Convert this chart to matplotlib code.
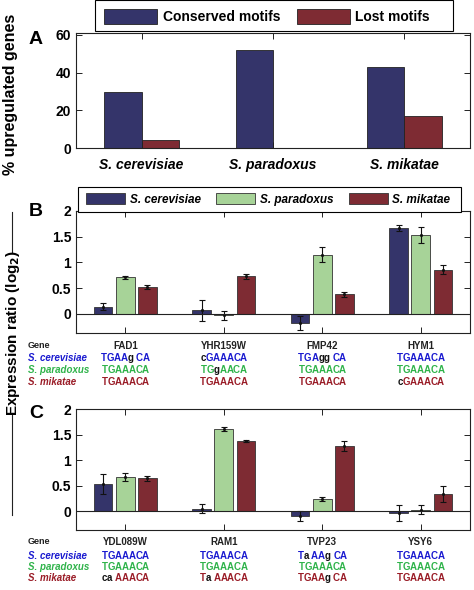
import numpy as np
import matplotlib
matplotlib.use('Agg')
import matplotlib.pyplot as plt
from matplotlib import transforms
from matplotlib.patches import Rectangle
from matplotlib.font_manager import FontProperties, findfont, get_font

plt.rcParams['font.family'] = ['Liberation Sans', 'DejaVu Sans']
plt.rcParams['font.weight'] = 'bold'

# ---- data ----
species = ['S. cerevisiae', 'S. paradoxus', 'S. mikatae']
conserved = [29.5, 52, 43]
lost = [4, 0, 17]

genes_b = ['FAD1', 'YHR159W', 'FMP42', 'HYM1']
cer_b = [0.14, 0.07, -0.18, 1.67]
cer_b_err = [0.07, 0.20, 0.14, 0.05]
par_b = [0.71, -0.03, 1.15, 1.53]
par_b_err = [0.03, 0.08, 0.15, 0.16]
mik_b = [0.53, 0.73, 0.38, 0.86]
mik_b_err = [0.04, 0.05, 0.05, 0.09]
motif_cer_b = ['TGAAg CA', 'cGAAACA', 'TGAgg CA', 'TGAAACA']
motif_par_b = ['TGAAACA', 'TGgAACA', 'TGAAACA', 'TGAAACA']
motif_mik_b = ['TGAAACA', 'TGAAACA', 'TGAAACA', 'cGAAACA']

genes_c = ['YDL089W', 'RAM1', 'TVP23', 'YSY6']
cer_c = [0.53, 0.05, -0.09, -0.04]
cer_c_err = [0.19, 0.08, 0.10, 0.15]
par_c = [0.67, 1.61, 0.24, 0.03]
par_c_err = [0.08, 0.04, 0.04, 0.08]
mik_c = [0.64, 1.37, 1.27, 0.33]
mik_c_err = [0.05, 0.02, 0.10, 0.16]
motif_cer_c = ['TGAAACA', 'TGAAACA', 'Ta AAg CA', 'TGAAACA']
motif_par_c = ['TGAAACA', 'TGAAACA', 'TGAAACA', 'TGAAACA']
motif_mik_c = ['ca AAACA', 'Ta AAACA', 'TGAAg CA', 'TGAAACA']

# ---- styles ----
navy = '#34346a'
green = '#a7d398'
maroon = '#7e2b33'
txt_cols = ['#1a1ad0', '#2fb34a', '#9a1c27']

W, H = 474, 590
fig = plt.figure(figsize=(W / 100, H / 100), dpi=100)


def px_axes(left, top, right, bottom):
    return fig.add_axes([left / W, 1 - bottom / H, (right - left) / W, (bottom - top) / H])


def px_box(left, top, right, bottom):
    r = Rectangle((left / W, 1 - bottom / H), (right - left) / W, (bottom - top) / H,
                  transform=fig.transFigure, facecolor='white', edgecolor='black',
                  linewidth=0.8, zorder=4.9)
    fig.add_artist(r)


def style_axes(ax):
    for s in ax.spines.values():
        s.set_linewidth(0.8)
        s.set_color('#222222')
    ax.tick_params(direction='in', top=True, right=True, length=4, width=0.7,
                   labelsize=10, color='#222222')


# ---- panel A ----
axA = px_axes(76, 33, 470, 148)
x = np.arange(1, 4)
bw = 0.285
axA.bar(x - bw / 2, conserved, bw, color=navy, edgecolor='#222222', linewidth=0.6,
        label='Conserved motifs')
axA.bar(x + bw / 2, lost, bw, color=maroon, edgecolor='#222222', linewidth=0.6,
        label='Lost motifs')
axA.set_xlim(0.5, 3.5)
axA.set_ylim(0, 61)
axA.set_yticks([0, 20, 40, 60])
axA.set_xticks(x)
axA.set_xticklabels(species, style='italic', fontsize=8.7)
style_axes(axA)
axA.tick_params(axis='x', pad=7)
fig.text(11 / W, 1 - 94 / H, '% upregulated genes', rotation=90, fontsize=11.5,
         ha='center', va='center')

px_box(95, 0.5, 453, 31)
fig.legend(*axA.get_legend_handles_labels(), loc='center', ncol=2,
           bbox_to_anchor=(267 / W, 1 - 16.5 / H), frameon=False,
           handlelength=3.8, handleheight=1.3, handletextpad=0.4, columnspacing=1.2,
           borderpad=0.3, prop={'weight': 'bold', 'size': 10})


def grouped(ax, vals, errs):
    xg = np.arange(1, 5)
    w = 0.19
    off = 0.225
    cols = [navy, green, maroon]
    handles = []
    for i in range(3):
        xi = xg + (i - 1) * off
        b = ax.bar(xi, vals[i], w, color=cols[i], edgecolor='#333333', linewidth=0.6,
                   label=species[i], zorder=2)
        ax.errorbar(xi, vals[i], yerr=errs[i], fmt='.', color='#111111', markersize=2.5,
                    capsize=2.5, elinewidth=0.8, capthick=0.8, zorder=3)
        handles.append(b)
    ax.axhline(0, color='#222222', linewidth=0.8, zorder=4)
    ax.set_xlim(0.5, 4.5)
    ax.set_ylim(-0.37, 2.0)
    ax.set_yticks([0, 0.5, 1, 1.5, 2])
    ax.set_yticklabels(['0', '0.5', '1', '1.5', '2'])
    ax.set_xticks(xg)
    ax.set_xticklabels([])
    style_axes(ax)
    return handles


axB = px_axes(76, 211, 470, 333)
hB = grouped(axB, [cer_b, par_b, mik_b], [cer_b_err, par_b_err, mik_b_err])
axC = px_axes(76, 409, 470, 530)
grouped(axC, [cer_c, par_c, mik_c], [cer_c_err, par_c_err, mik_c_err])

px_box(78, 187, 461, 212)
fig.legend(hB, species, loc='center', ncol=3,
           bbox_to_anchor=(268.3 / W, 1 - 199.5 / H), frameon=False,
           handlelength=3.3, handleheight=1.1, handletextpad=0.4, columnspacing=1.3,
           borderpad=0.3, prop={'weight': 'bold', 'style': 'italic', 'size': 8.5})

# panel letters
for lab, yy in [('A', 39), ('B', 212), ('C', 414)]:
    fig.text(36 / W, 1 - yy / H, lab, fontsize=14, ha='center', va='center')

# shared y label with lines
fig.text(13 / W, 1 - 333 / H, 'Expression ratio (log$_\\mathbf{2}$)', rotation=90,
         fontsize=11, ha='center', va='center')
fig.add_artist(plt.Line2D([11.7 / W] * 2, [1 - 212 / H, 1 - 252 / H], color='#222222', lw=0.8))
fig.add_artist(plt.Line2D([11.7 / W] * 2, [1 - 413 / H, 1 - 515 / H], color='#222222', lw=0.8))

# ---- gene tables ----
seq_fp = FontProperties(family='Liberation Sans', weight='bold', size=7)
seq_font = get_font(findfont(seq_fp))
seq_font.set_size(7, 100)


def adv(c):
    return seq_font.load_char(ord(c)).linearHoriAdvance / 65536 * 0.97


def seq_text(ax, xc, ypx, seq, col):
    # draw letter by letter: capitals in species colour, lower case (mismatch) in black
    widths = [adv(c) for c in seq]
    pen = ax.transData.transform((xc, 0))[0] - sum(widths) / 2
    for c, w in zip(seq, widths):
        if c != ' ':
            fig.text((pen + w / 2) / W, 1 - ypx / H, c, fontproperties=seq_fp,
                     color=col if c.isupper() else '#111111', ha='center', va='center')
        pen += w


def gene_table(ax, genes, motifs, rows):
    tr = transforms.blended_transform_factory(ax.transData, fig.transFigure)
    fig.text(28 / W, 1 - rows[0] / H, 'Gene', fontsize=6.5, color='#222222', va='center')
    for k, g in enumerate(genes):
        ax.text(k + 1, 1 - rows[0] / H, g, transform=tr, fontsize=7, ha='center',
                va='center', color='#222222')
    for i in range(3):
        fig.text(28 / W, 1 - rows[i + 1] / H, species[i], fontsize=7, style='italic',
                 color=txt_cols[i], va='center')
        for k in range(len(genes)):
            seq_text(ax, k + 1, rows[i + 1], motifs[i][k], txt_cols[i])


gene_table(axB, genes_b, [motif_cer_b, motif_par_b, motif_mik_b], [346, 358.3, 370, 381.7])
gene_table(axC, genes_c, [motif_cer_c, motif_par_c, motif_mik_c], [541.7, 555.7, 567.3, 578.3])

fig.savefig('out.png', dpi=100)
